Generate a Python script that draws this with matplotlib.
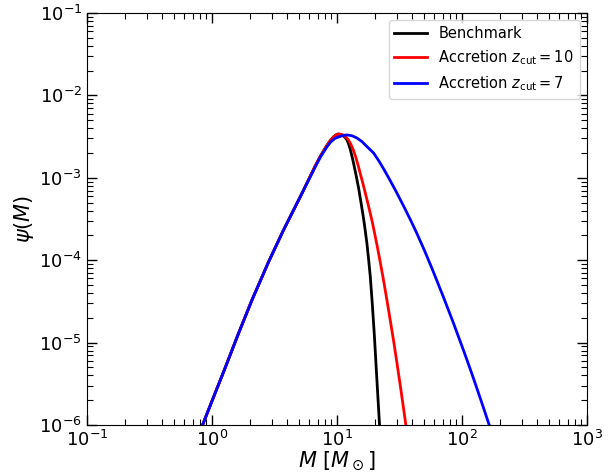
import numpy as np
import matplotlib
matplotlib.use("Agg")
import matplotlib.pyplot as plt

# values (M in solar masses, psi(M))
m_left = [0.841, 1.0, 1.25, 1.633, 2.09, 2.837, 3.74, 5.09]
psi_left = [1.0e-6, 1.95e-6, 4.57e-6, 1.30e-5, 3.29e-5, 9.55e-5, 2.33e-4, 5.90e-4]

# black / red share the same rise up to the peak
m_rise = [6.71, 7.41, 8.32, 8.91, 9.44, 9.89, 10.24]
psi_rise = [1.40e-3, 1.86e-3, 2.48e-3, 2.88e-3, 3.16e-3, 3.33e-3, 3.40e-3]

m_bench = m_left + m_rise + [10.84, 11.22, 11.61, 12.02, 12.39, 12.78, 13.18, 13.58,
                             14.22, 14.89, 15.60, 16.32, 16.83, 17.38, 17.91, 18.47,
                             19.14, 19.88, 20.80, 21.80, 22.13]
psi_bench = psi_left + psi_rise + [3.33e-3, 3.24e-3, 3.09e-3, 2.88e-3, 2.57e-3, 2.21e-3,
                                   1.82e-3, 1.50e-3, 1.07e-3, 7.50e-4, 4.90e-4, 3.20e-4,
                                   2.29e-4, 1.57e-4, 1.02e-4, 6.31e-5, 3.02e-5, 1.26e-5,
                                   3.80e-6, 1.12e-6, 7.6e-7]

m_z10 = m_left + m_rise + [10.72, 11.22, 11.75, 12.30, 12.88, 13.49, 14.13, 14.79,
                           15.49, 16.22, 16.98, 17.99, 19.05, 19.95, 20.89, 21.88,
                           22.91, 23.99, 25.70, 28.37, 30.20, 32.36, 35.20, 35.89]
psi_z10 = psi_left + psi_rise + [3.38e-3, 3.30e-3, 3.14e-3, 2.90e-3, 2.57e-3, 2.19e-3,
                                 1.78e-3, 1.40e-3, 1.07e-3, 8.22e-4, 6.24e-4, 4.37e-4,
                                 3.02e-4, 2.16e-4, 1.53e-4, 1.06e-4, 7.24e-5, 4.90e-5,
                                 2.63e-5, 1.05e-5, 5.62e-6, 2.75e-6, 1.12e-6, 8.9e-7]

m_z7 = m_left + [6.71, 7.41, 8.32, 8.91, 9.66, 10.63, 11.35, 12.09, 13.18, 14.45,
                 15.85, 17.38, 19.63, 21.88, 23.99, 26.30, 29.51, 34.11, 38.90,
                 43.65, 50.12, 57.54, 71.28, 85.11, 103.0, 114.8, 126.8, 144.5,
                 163.3, 171.8]
psi_z7 = psi_left + [1.36e-3, 1.81e-3, 2.38e-3, 2.72e-3, 3.02e-3, 3.18e-3, 3.28e-3,
                     3.31e-3, 3.24e-3, 3.04e-3, 2.75e-3, 2.39e-3, 2.00e-3, 1.56e-3,
                     1.23e-3, 9.59e-4, 6.95e-4, 4.54e-4, 3.04e-4, 2.10e-4, 1.31e-4,
                     7.94e-5, 3.52e-5, 1.75e-5, 8.00e-6, 5.05e-6, 3.28e-6, 1.83e-6,
                     1.05e-6, 8.3e-7]

fig = plt.figure(figsize=(6.08, 4.73), dpi=100)
ax = fig.add_axes([0.143, 0.1015, 0.8225, 0.871])

ax.plot(m_bench, psi_bench, color='black', lw=2.0, label='Benchmark')
ax.plot(m_z10, psi_z10, color='red', lw=2.0, label=r'Accretion $z_{\rm cut}=10$')
ax.plot(m_z7, psi_z7, color='blue', lw=2.0, label=r'Accretion $z_{\rm cut}=7$')

ax.set_xscale('log')
ax.set_yscale('log')
ax.set_xlim(0.1, 1000)
ax.set_ylim(1e-6, 1e-1)

ax.tick_params(which='both', direction='in', top=True, right=True, labelsize=13)
ax.tick_params(which='major', length=7, width=1)
ax.tick_params(which='minor', length=4, width=0.8)

ax.set_xlabel(r'$M\ [M_\odot]$', fontsize=15, labelpad=0)
ax.set_ylabel(r'$\psi(M)$', fontsize=15, labelpad=2)

ax.legend(loc='upper right', fontsize=10.5, handlelength=2.2, borderaxespad=0.5)

fig.savefig('out.png', dpi=100)
